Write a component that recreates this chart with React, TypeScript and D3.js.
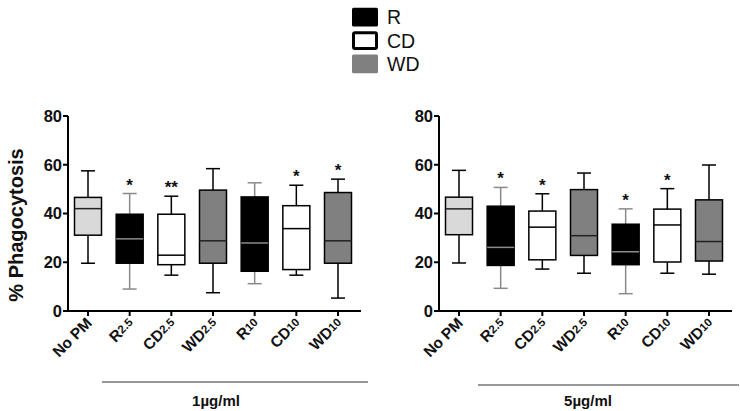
import React from "react";
import * as d3 from "d3";

const categories = ["No PM", "R2.5", "CD2.5", "WD2.5", "R10", "CD10", "WD10"];
const labelMain = ["No PM", "R", "CD", "WD", "R", "CD", "WD"];
const labelSub = ["", "2.5", "2.5", "2.5", "10", "10", "10"];
const groups = ["none", "R", "CD", "WD", "R", "CD", "WD"];

// [min, q1, median, q3, max]
const panel1Stats = [
  [19.6, 31.1, 42.0, 46.6, 57.5],
  [9.0, 19.6, 29.6, 39.7, 48.2],
  [14.7, 19.0, 22.9, 39.7, 47.1],
  [7.5, 19.6, 28.8, 49.6, 58.4],
  [11.2, 16.3, 27.9, 46.8, 52.6],
  [14.7, 17.0, 33.8, 43.2, 51.6],
  [5.3, 19.6, 28.8, 48.6, 54.1],
];
const panel1Stars = ["", "*", "**", "", "", "*", "*"];

const panel2Stats = [
  [19.7, 31.3, 41.9, 46.7, 57.7],
  [9.3, 18.7, 26.1, 43.0, 50.7],
  [17.2, 21.0, 34.4, 41.0, 48.1],
  [15.5, 22.8, 30.9, 49.8, 56.6],
  [7.1, 19.0, 24.3, 35.6, 41.9],
  [15.5, 20.1, 35.3, 41.8, 50.2],
  [15.1, 20.5, 28.5, 45.6, 59.9],
];
const panel2Stars = ["", "*", "*", "", "*", "*", ""];

const yTicks = [0, 20, 40, 60, 80];
const legendItems = ["R", "CD", "WD"];
const doseLabels = ["1µg/ml", "5µg/ml"];

const fillOf: Record<string, string> = { none: "#d9d9d9", R: "#000000", CD: "#ffffff", WD: "#808080" };
const FONT = "'Liberation Sans', Arial, sans-serif";

function Panel({ x0, stats, stars, dose, lineX1, lineY, doseX }: { x0: number; stats: number[][]; stars: string[]; dose: string; lineX1: number; lineY: number; doseX: number }) {
  const y = d3.scaleLinear().domain([0, 80]).range([311, 116]);
  const x = d3.scalePoint<string>().domain(categories).range([x0 + 20, x0 + 270]);
  const axisEnd = x0 + 293;
  const bw = 27;
  const cw = 14;
  return (
    <g>
      <line x1={x0} x2={x0} y1={y(80)} y2={y(0)} stroke="#000" strokeWidth={2} />
      {yTicks.map((t) => (
        <g key={t}>
          <line x1={x0 - 5} x2={x0} y1={y(t)} y2={y(t)} stroke="#000" strokeWidth={2} />
          <text x={x0 - 6} y={y(t)} dy="0.36em" textAnchor="end" fontSize={16.5} fontWeight="bold" fontFamily={FONT} fill="#111">
            {t}
          </text>
        </g>
      ))}
      <line x1={x0 - 1} x2={axisEnd} y1={y(0)} y2={y(0)} stroke="#000" strokeWidth={2} />
      {categories.map((c, i) => {
        const cx = x(c)!;
        const s = stats[i];
        const g = groups[i];
        const isBlack = g === "R";
        const wc = isBlack ? "#8a8a8a" : "#000";
        const mc = isBlack ? "#8a8a8a" : g === "CD" ? "#000" : "#222";
        return (
          <g key={c}>
            <line x1={cx} x2={cx} y1={y(0)} y2={y(0) + 5} stroke="#000" strokeWidth={2} />
            <line x1={cx} x2={cx} y1={y(s[4])} y2={y(s[3])} stroke={wc} strokeWidth={1.5} />
            <line x1={cx} x2={cx} y1={y(s[1])} y2={y(s[0])} stroke={wc} strokeWidth={1.5} />
            <line x1={cx - cw / 2} x2={cx + cw / 2} y1={y(s[4])} y2={y(s[4])} stroke={wc} strokeWidth={1.5} />
            <line x1={cx - cw / 2} x2={cx + cw / 2} y1={y(s[0])} y2={y(s[0])} stroke={wc} strokeWidth={1.5} />
            <rect x={cx - bw / 2} y={y(s[3])} width={bw} height={y(s[1]) - y(s[3])} fill={fillOf[g]} stroke="#000" strokeWidth={1.5} />
            <line x1={cx - bw / 2} x2={cx + bw / 2} y1={y(s[2])} y2={y(s[2])} stroke={mc} strokeWidth={1.5} />
            {stars[i] && (
              <text x={cx} y={y(s[4]) - 3} textAnchor="middle" fontSize={17} fontWeight="bold" fontFamily={FONT} fill="#111">
                {stars[i]}
              </text>
            )}
            <text
              transform={`translate(${cx + 5},${y(0) + 13}) rotate(-45)`}
              textAnchor="end"
              fontSize={15.5}
              fontWeight="bold"
              fontFamily={FONT}
              fill="#111"
            >
              {labelMain[i]}
              {labelSub[i] && (
                <tspan fontSize={11.5} dy={-1.5}>
                  {labelSub[i]}
                </tspan>
              )}
            </text>
          </g>
        );
      })}
      <line x1={lineX1} x2={x0 + 300} y1={lineY} y2={lineY} stroke="#333" strokeWidth={1.2} />
      <text x={doseX} y={406} textAnchor="middle" fontSize={15} fontWeight="bold" fontFamily={FONT} fill="#111">
        {dose}
      </text>
    </g>
  );
}

export default function App() {
  const legendY = d3.scaleBand<string>().domain(legendItems).range([3, 78]).padding(0.2);
  return (
    <svg width={740} height={411} style={{ position: "absolute", left: 0, top: 0 }}>
      <rect width={740} height={411} fill="#fff" />
      {legendItems.map((l) => {
        const yy = legendY(l)!;
        const bh = legendY.bandwidth();
        const g = l;
        return (
          <g key={l}>
            <rect
              x={g === "CD" ? 353.5 : 352}
              y={g === "CD" ? yy + 1.5 : yy}
              width={g === "CD" ? 23 : 26}
              height={g === "CD" ? bh - 3 : bh}
              rx={1.5}
              fill={fillOf[g]}
              stroke={g === "CD" ? "#000" : "none"}
              strokeWidth={3}
            />
            <text x={387} y={yy + bh / 2} dy="0.36em" fontSize={19.5} fontFamily={FONT} fill="#111">
              {l}
            </text>
          </g>
        );
      })}
      <text
        transform="translate(23,225) rotate(-90)"
        textAnchor="middle"
        fontSize={20}
        fontWeight="bold"
        fontFamily={FONT}
        fill="#111"
      >
        % Phagocytosis
      </text>
      <Panel x0={68} stats={panel1Stats} stars={panel1Stars} dose={doseLabels[0]} lineX1={102} lineY={382} doseX={216} />
      <Panel x0={439} stats={panel2Stats} stars={panel2Stars} dose={doseLabels[1]} lineX1={478} lineY={385} doseX={588} />
    </svg>
  );
}
